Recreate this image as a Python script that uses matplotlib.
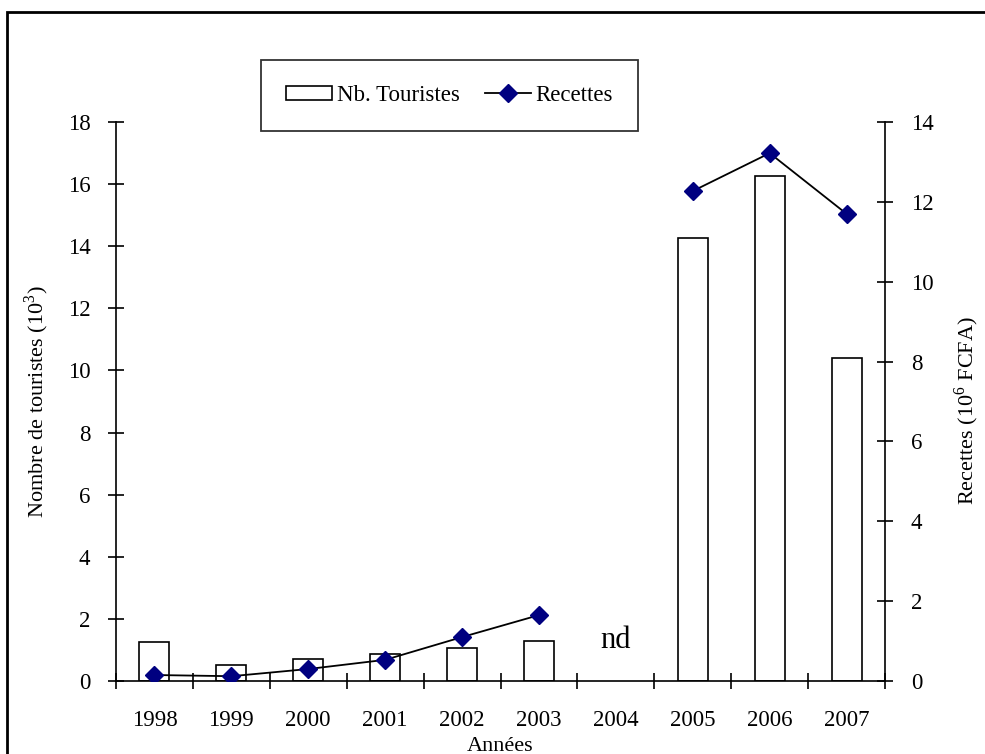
import numpy as np
import matplotlib
matplotlib.use("Agg")
import matplotlib.pyplot as plt
from matplotlib.patches import Rectangle

plt.rcParams['font.family'] = ['Liberation Serif', 'DejaVu Serif']
plt.rcParams['mathtext.fontset'] = 'custom'
plt.rcParams['mathtext.rm'] = 'Liberation Serif'

years = ['1998', '1999', '2000', '2001', '2002', '2003', '2004', '2005', '2006', '2007']
touristes = [1.25, 0.5, 0.7, 0.87, 1.05, 1.3, np.nan, 14.25, 16.25, 10.4]
recettes = [0.15, 0.12, 0.3, 0.53, 1.1, 1.65, np.nan, 12.27, 13.22, 11.7]

fig = plt.figure(figsize=(9.85, 7.54), dpi=100)
ax = fig.add_axes([116/985, 1-681/754, (885-116)/985, (681-122)/754])
ax2 = ax.twinx()

x = np.arange(len(years))
tarr = np.array(touristes, dtype=float)
mask = ~np.isnan(tarr)
ax.bar(x[mask], tarr[mask], width=0.39, facecolor='white', edgecolor='black', linewidth=1.2,
       label='Nb. Touristes', zorder=2)
ax2.plot(x, recettes, color='black', linewidth=1.3, marker='D', markersize=9.5,
         markerfacecolor='#000080', markeredgecolor='#000080', label='Recettes', zorder=3)

ax.set_xlim(-0.5, len(years) - 0.5)
ax.set_ylim(0, 18)
ax2.set_ylim(0, 14)
ax.set_yticks(np.arange(0, 19, 2))
ax2.set_yticks(np.arange(0, 15, 2))
ax.set_xticks(x)
ax.set_xticklabels(years)
ax.set_xticks(np.arange(-0.5, len(years), 1), minor=True)

for a in (ax, ax2):
    a.spines['top'].set_visible(False)
    for s in a.spines.values():
        s.set_linewidth(1.2)
ax.spines['right'].set_visible(False)
ax2.spines['left'].set_visible(False)
ax2.spines['bottom'].set_visible(False)
ax2.spines['right'].set_visible(True)

ax.tick_params(axis='x', which='major', length=0, pad=21, labelsize=16.5)
ax.tick_params(axis='x', which='minor', direction='inout', length=11, width=1.2)
ax.tick_params(axis='y', direction='inout', length=11, width=1.2, pad=13, labelsize=16.5)
ax2.tick_params(axis='y', direction='inout', length=11, width=1.2, pad=13, labelsize=16.5)

ax.set_ylabel('Nombre de touristes (10$^3$)', fontsize=16)
ax.yaxis.set_label_coords(-0.085, 0.5)
ax2.set_ylabel('Recettes (10$^6$ FCFA)', fontsize=16)
ax2.yaxis.set_label_coords(1.087, 0.484)
ax.set_xlabel('Années', fontsize=16)
ax.xaxis.set_label_coords(0.5, -0.1)

ax.text(6, 1.3, 'nd', fontsize=22, ha='center', va='center')

h1, l1 = ax.get_legend_handles_labels()
h2, l2 = ax2.get_legend_handles_labels()
leg = fig.legend(h1 + h2, l1 + l2, loc='center', bbox_to_anchor=((263+636)/2/985, 1-95.5/754),
                 ncol=2, frameon=True, fancybox=False, fontsize=16.5, edgecolor='black',
                 borderpad=1.1, handlelength=2.0, columnspacing=1.1, handletextpad=0.2,
                 handleheight=0.55)
leg.get_frame().set_linewidth(1.3)

fig.patches.append(Rectangle((7/985, -0.1), 1.2, 1 - 12/754 + 0.1, transform=fig.transFigure,
                             fill=False, edgecolor='black', linewidth=2))

fig.savefig('out.png', dpi=100)
